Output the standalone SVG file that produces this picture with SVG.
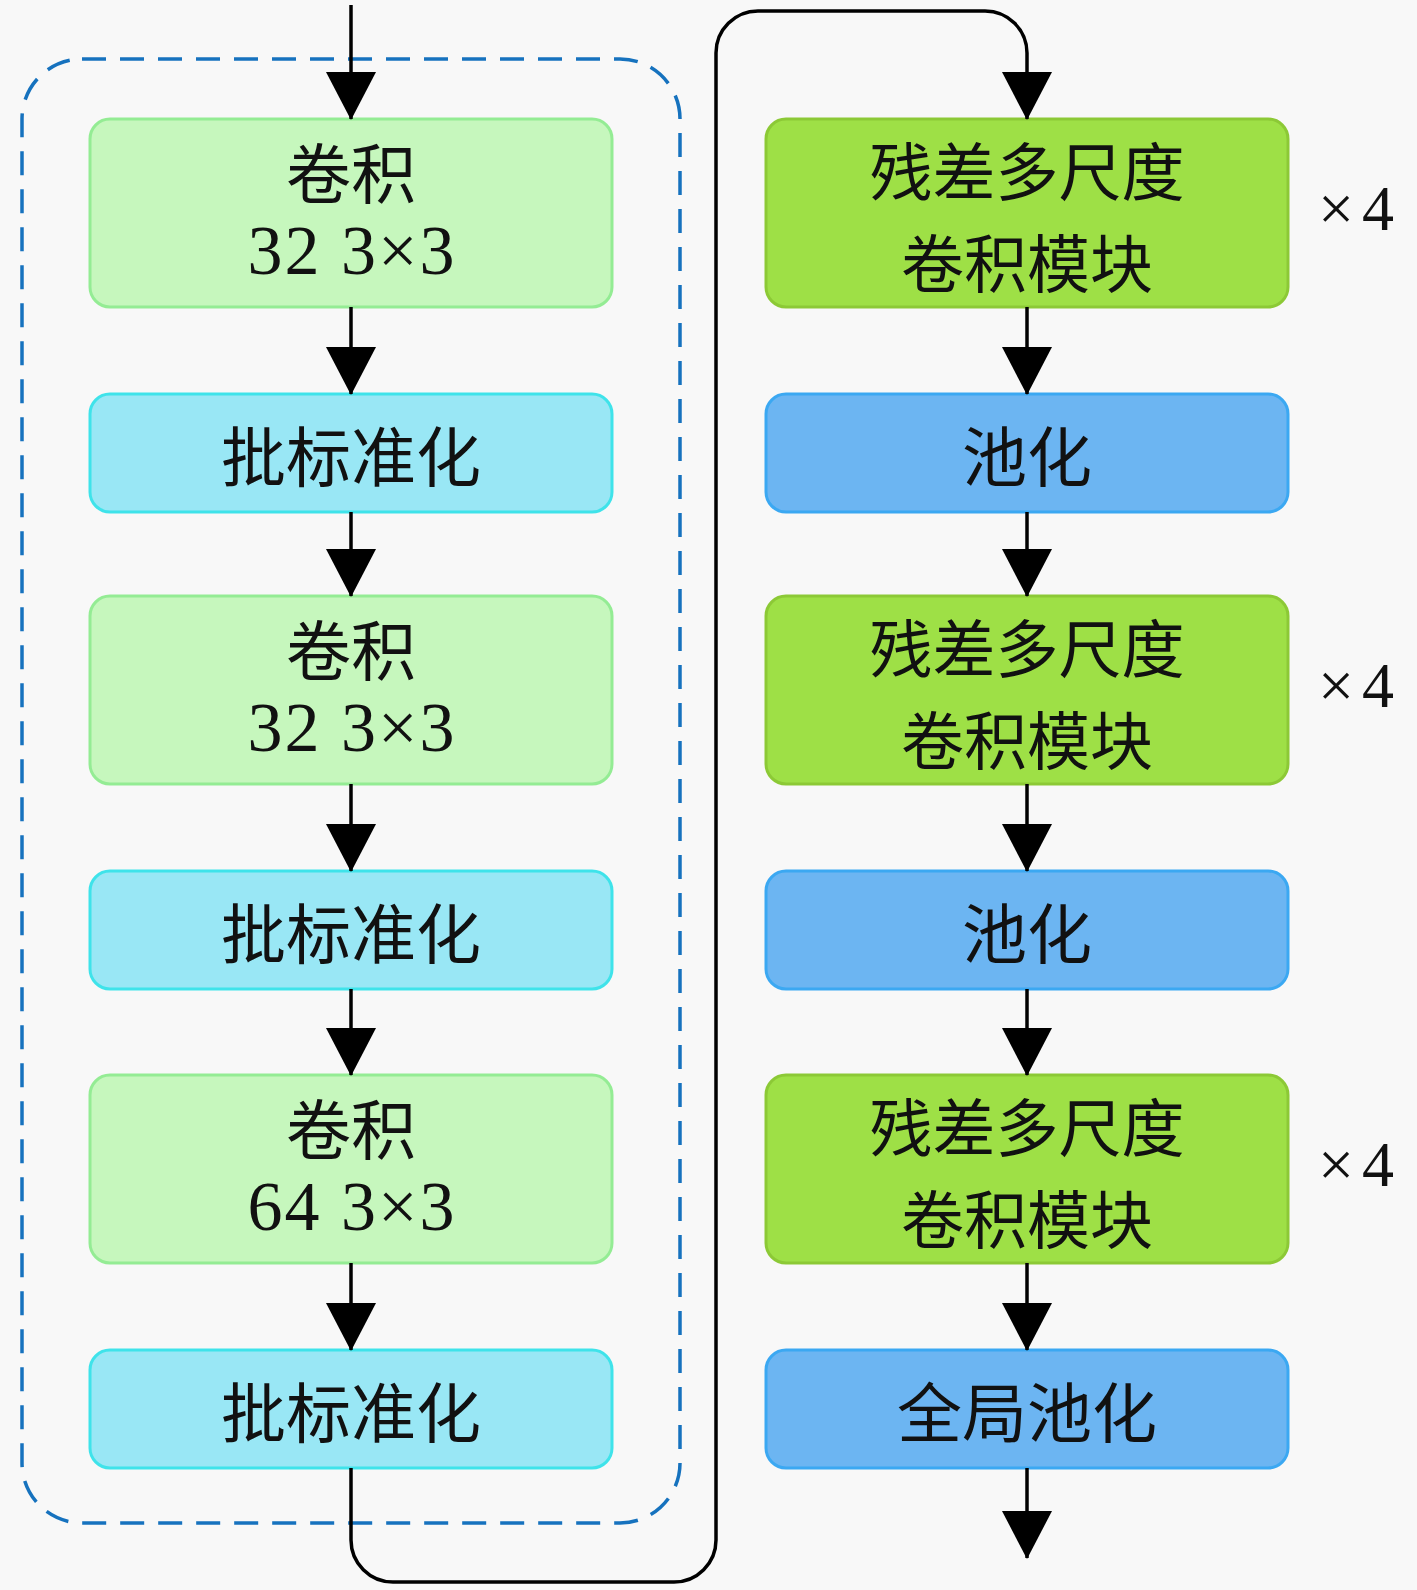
<svg xmlns="http://www.w3.org/2000/svg" width="1417" height="1590" viewBox="0 0 1417 1590">
<style>
.cjk{font-family:"Noto Sans CJK SC","Noto Sans CJK JP",sans-serif;font-size:65px;fill:#111;text-anchor:middle;dominant-baseline:central}
.cjk2{font-size:63px}
.num{font-family:"Liberation Serif","Times New Roman",serif;font-size:70px;fill:#111;text-anchor:middle;letter-spacing:2px}
.rep{font-family:"Liberation Serif","Times New Roman",serif;font-size:64px;fill:#111;letter-spacing:8px}
.conv{fill:#c6f7bd;stroke:#94ec94;stroke-width:3}
.bn{fill:#99e7f5;stroke:#3fe3ea;stroke-width:3}
.res{fill:#9ee046;stroke:#8cc936;stroke-width:3}
.pool{fill:#6cb5f2;stroke:#3ba8f2;stroke-width:3}
.edge{fill:none;stroke:#000;stroke-width:3.5;marker-end:url(#arr)}
</style>
<defs>
<marker id="arr" markerUnits="userSpaceOnUse" markerWidth="50" markerHeight="50" viewBox="0 0 48 50" refX="47" refY="25" orient="auto">
<path d="M0,0 L48,25 L0,50 z" fill="#000"/>
</marker>
</defs>
<rect x="0" y="0" width="1417" height="1590" fill="#f8f8f8"/>
<rect id="group-frame" x="22" y="59" width="658" height="1464" rx="60" ry="60" fill="none" stroke="#1672be" stroke-width="3.5" stroke-dasharray="24 14"/>

<g id="conv1"><rect class="conv" x="90" y="119" width="522" height="188" rx="20"/><text class="cjk" x="351" y="170">卷积</text><text class="num" x="352" y="274">32 3×3</text></g>
<g id="bn1"><rect class="bn" x="90" y="394" width="522" height="118" rx="20"/><text class="cjk" x="351" y="453">批标准化</text></g>
<g id="conv2"><rect class="conv" x="90" y="596" width="522" height="188" rx="20"/><text class="cjk" x="351" y="647">卷积</text><text class="num" x="352" y="751">32 3×3</text></g>
<g id="bn2"><rect class="bn" x="90" y="871" width="522" height="118" rx="20"/><text class="cjk" x="351" y="930">批标准化</text></g>
<g id="conv3"><rect class="conv" x="90" y="1075" width="522" height="188" rx="20"/><text class="cjk" x="351" y="1126">卷积</text><text class="num" x="352" y="1230">64 3×3</text></g>
<g id="bn3"><rect class="bn" x="90" y="1350" width="522" height="118" rx="20"/><text class="cjk" x="351" y="1409">批标准化</text></g>

<g id="res1"><rect class="res" x="766" y="119" width="522" height="188" rx="20"/><text class="cjk cjk2" x="1027" y="167">残差多尺度</text><text class="cjk cjk2" x="1027" y="259">卷积模块</text></g>
<g id="pool1"><rect class="pool" x="766" y="394" width="522" height="118" rx="20"/><text class="cjk" x="1027" y="453">池化</text></g>
<g id="res2"><rect class="res" x="766" y="596" width="522" height="188" rx="20"/><text class="cjk cjk2" x="1027" y="644">残差多尺度</text><text class="cjk cjk2" x="1027" y="736">卷积模块</text></g>
<g id="pool2"><rect class="pool" x="766" y="871" width="522" height="118" rx="20"/><text class="cjk" x="1027" y="930">池化</text></g>
<g id="res3"><rect class="res" x="766" y="1075" width="522" height="188" rx="20"/><text class="cjk cjk2" x="1027" y="1123">残差多尺度</text><text class="cjk cjk2" x="1027" y="1215">卷积模块</text></g>
<g id="gpool"><rect class="pool" x="766" y="1350" width="522" height="118" rx="20"/><text class="cjk" x="1027" y="1409">全局池化</text></g>

<g id="rep1"><text class="rep" x="1318" y="230">×4</text></g>
<g id="rep2"><text class="rep" x="1318" y="707">×4</text></g>
<g id="rep3"><text class="rep" x="1318" y="1186">×4</text></g>

<g id="connectors">
<path class="edge" d="M351,5 V119"/>
<path class="edge" d="M351,307 V394"/>
<path class="edge" d="M351,512 V596"/>
<path class="edge" d="M351,784 V871"/>
<path class="edge" d="M351,989 V1075"/>
<path class="edge" d="M351,1263 V1350"/>
<path class="edge" d="M351,1468 V1540 A42,42 0 0 0 393,1582 H674 A42,42 0 0 0 716,1540 V53 A42,42 0 0 1 758,11 H985 A42,42 0 0 1 1027,53 V119"/>
<path class="edge" d="M1027,307 V394"/>
<path class="edge" d="M1027,512 V596"/>
<path class="edge" d="M1027,784 V871"/>
<path class="edge" d="M1027,989 V1075"/>
<path class="edge" d="M1027,1263 V1350"/>
<path class="edge" d="M1027,1468 V1558"/>
</g>
</svg>
